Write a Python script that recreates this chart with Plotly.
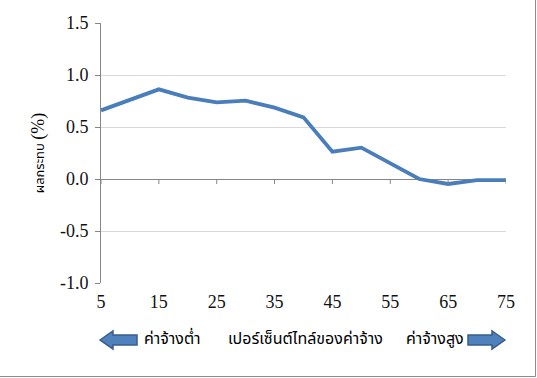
import plotly.graph_objects as go

# Data
percentiles = [5, 10, 15, 20, 25, 30, 35, 40, 45, 50, 55, 60, 65, 70, 75]
effect = [0.66, 0.765, 0.862, 0.782, 0.737, 0.753, 0.686, 0.593, 0.263, 0.301, 0.15, 0.0, -0.048, -0.01, -0.01]
x_ticks = [5, 15, 25, 35, 45, 55, 65, 75]
y_ticks = [-1.0, -0.5, 0.0, 0.5, 1.0, 1.5]
y_tick_labels = ["-1.0", "-0.5", "0.0", "0.5", "1.0", "1.5"]
y_title_thai = "ผลกระทบ"
y_title_unit = "(%)"
label_low = "ค่าจ้างต่ำ"
label_mid = "เปอร์เซ็นต์ไทล์ของค่าจ้าง"
label_high = "ค่าจ้างสูง"

W, H = 537, 378
L, R, T, B = 101, 31, 23, 95
PW, PH = W - L - R, H - T - B

def px(x):
    return (x - L) / PW

def py(y):
    return (H - B - y) / PH

SERIF = "Liberation Serif"
THAI = "Tahoma, Noto Sans Thai, Noto Sans, DejaVu Sans, sans-serif"

fig = go.Figure()
fig.add_trace(go.Scatter(
    x=percentiles, y=effect, mode="lines",
    line=dict(color="#4a7ebb", width=3.8),
    showlegend=False, hoverinfo="skip",
))

shapes = []
# tick marks on the zero line
for xv in x_ticks:
    shapes.append(dict(type="line", xref="x", yref="y", ysizemode="pixel", yanchor=0,
                       x0=xv, x1=xv, y0=0, y1=-5, line=dict(color="#868686", width=1)))

def arrow(tip, tail, cy, direction):
    hw, sw, hl = 9, 5, 13
    base = tip + direction * hl
    pts = [(tip, cy), (base, cy - hw), (base, cy - sw), (tail, cy - sw),
           (tail, cy + sw), (base, cy + sw), (base, cy + hw)]
    path = "M " + " L ".join(f"{px(a):.4f},{py(b):.4f}" for a, b in pts) + " Z"
    return dict(type="path", xref="paper", yref="paper", path=path,
                fillcolor="#4f81bd", line=dict(color="#385d8a", width=1.5))

shapes.append(arrow(100, 137, 340, 1))
shapes.append(arrow(505, 468, 340, -1))
# outer frame (bottom/right edges)
shapes.append(dict(type="rect", xref="paper", yref="paper",
                   x0=px(-2), x1=px(535.5), y0=py(376.5), y1=py(-2),
                   line=dict(color="#8c8c8c", width=1), fillcolor="rgba(0,0,0,0)"))

def label(text, cx):
    return dict(text=text, x=px(cx), y=py(339), xref="paper", yref="paper",
                xanchor="center", yanchor="middle",
                showarrow=False, font=dict(family=THAI, size=16, color="#000"))

annotations = [label(label_low, 172), label(label_mid, 305), label(label_high, 435)]

y_title = (f"{y_title_thai} <span style='font-family:Liberation Serif;"
           f"font-size:18px'>{y_title_unit}</span>")

fig.update_layout(
    width=W, height=H,
    margin=dict(l=L, r=R, t=T, b=B),
    paper_bgcolor="white", plot_bgcolor="white",
    font=dict(family=SERIF, size=18, color="#111"),
    shapes=shapes, annotations=annotations,
    xaxis=dict(range=[5, 75], tickmode="array", tickvals=x_ticks,
               ticktext=[str(v) for v in x_ticks],
               showgrid=False, zeroline=False, showline=False, ticks="",
               ticklabelstandoff=6,
               tickfont=dict(family=SERIF, size=18, color="#111")),
    yaxis=dict(range=[-1.0, 1.5], tickmode="array", tickvals=y_ticks, ticktext=y_tick_labels,
               showgrid=True, gridcolor="#d9d9d9", gridwidth=1,
               zeroline=True, zerolinecolor="#868686", zerolinewidth=1,
               showline=True, linecolor="#868686", linewidth=1,
               ticks="outside", ticklen=5, tickcolor="#868686",
               ticklabelstandoff=3,
               tickfont=dict(family=SERIF, size=18, color="#111"),
               title=dict(text=y_title, standoff=12, font=dict(family=THAI, size=13, color="#000"))),
)

fig.write_html("out.html")
